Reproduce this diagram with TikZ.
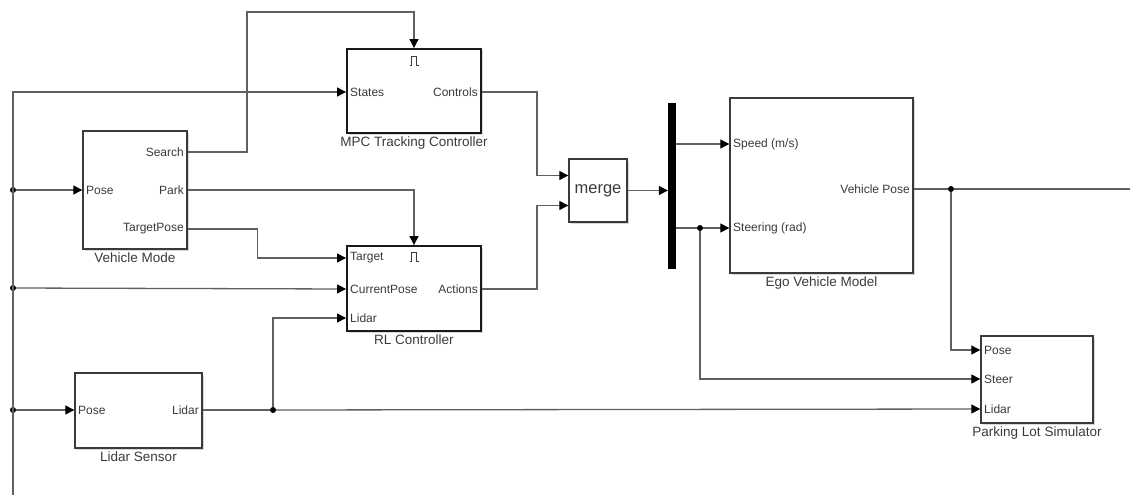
\documentclass[tikz,border=0pt]{standalone}
\usepackage{fontspec}
\setmainfont{Liberation Sans}
\usepackage{tikz}
\usetikzlibrary{arrows.meta, positioning, shadows}
\definecolor{wire}{HTML}{606060}
\definecolor{labelgray}{HTML}{3a3a3a}
\definecolor{frame}{HTML}{3a3a3a}

\begin{document}
\begin{tikzpicture}[
  x=1pt, y=-1pt,
  block/.style={rectangle, draw=frame, line width=1.4pt, fill=white, inner sep=0pt,
    drop shadow={shadow xshift=1.5pt, shadow yshift=-1.5pt, fill=black!30}},
  ctrlblock/.style={block, draw=black!90, line width=1.9pt},
  inport/.style={anchor=west, inner sep=1pt, text=labelgray, font=\fontsize{12}{14}\selectfont},
  outport/.style={inport, anchor=east},
  caption/.style={inner sep=1pt, text=labelgray, font=\fontsize{13.5}{15}\selectfont},
  sig/.style={draw=wire, line width=1.3pt},
  arrow/.style={sig, -{Triangle[length=9pt, width=9pt, color=black]}},
  junc/.style={circle, fill=black, inner sep=0pt, minimum size=6pt},
  trigger/.pic={\draw[labelgray, line width=0.9pt] (-4.5,4) -- (-2.5,4) -- (-2.5,-4.5) -- (2.5,-4.5) -- (2.5,4) -- (4.5,4);}
]
  \useasboundingbox (0,0) rectangle (1130,495);

  % blocks
  \node[ctrlblock, minimum width=134pt, minimum height=84pt] (mpc) at (414,91) {};
  \node[block, minimum width=104pt, minimum height=118pt] (vm) at (135,190) {};
  \node[ctrlblock, minimum width=134pt, minimum height=85pt] (rl) at (414,288.5) {};
  \node[block, minimum width=127pt, minimum height=75pt] (ls) at (138.5,410.5) {};
  \node[block, minimum width=58pt, minimum height=63pt, font=\fontsize{16.5}{18}\selectfont, text=labelgray] (merge) at (598,190.5) {merge};
  \node[rectangle, fill=black, minimum width=8pt, minimum height=166pt, inner sep=0pt] (bar) at (672,186) {};
  \node[block, minimum width=183pt, minimum height=175pt] (ego) at (821.5,185.5) {};
  \node[block, minimum width=112pt, minimum height=87pt] (pls) at (1037,379.5) {};

  \node[caption, below=2pt of mpc] (mpc-cap) {MPC Tracking Controller};
  \node[caption, below=2pt of vm] (vm-cap) {Vehicle Mode};
  \node[caption, below=2pt of rl] (rl-cap) {RL Controller};
  \node[caption, below=2pt of ls] (ls-cap) {Lidar Sensor};
  \node[caption, below=2pt of ego] (ego-cap) {Ego Vehicle Model};
  \node[caption, below=2pt of pls] (pls-cap) {Parking Lot Simulator};

  % ports
  \node[inport] (mpc-states) at (349,92) {States};
  \node[outport] (mpc-ctrl) at (479,92) {Controls};
  \pic at ([yshift=-13pt]mpc.north) {trigger};
  \node[inport] (vm-pose) at (85,190) {Pose};
  \node[outport] (vm-search) at (185,152) {Search};
  \node[outport] (vm-park) at (185,190) {Park};
  \node[outport] (vm-target) at (185,229) {TargetPose};
  \node[inport] (rl-target) at (349,258) {Target};
  \node[inport] (rl-cur) at (349,289) {CurrentPose};
  \node[inport] (rl-lidar) at (349,318) {Lidar};
  \node[outport] (rl-act) at (479,289) {Actions};
  \pic at ([yshift=-12pt]rl.north) {trigger};
  \node[inport] (ls-pose) at (77,410) {Pose};
  \node[outport] (ls-lidar) at (200,410) {Lidar};
  \node[inport] (ego-speed) at (732,144) {Speed (m/s)};
  \node[inport] (ego-steer) at (732,228) {Steering (rad)};
  \node[outport] (ego-pose) at (911,189) {Vehicle Pose};
  \node[inport] (pls-pose) at (983,350) {Pose};
  \node[inport] (pls-steer) at (983,379) {Steer};
  \node[inport] (pls-lidar) at (983,409) {Lidar};

  % junctions
  \node[junc] (j-vm) at (13,190) {};
  \node[junc] (j-rl) at (13,288) {};
  \node[junc] (j-ls) at (13,410) {};
  \node[junc] (j-lidar) at (273,410) {};
  \node[junc] (j-steer) at (700,228) {};
  \node[junc] (j-pose) at (951,189) {};
  \coordinate (busend) at (13,495);
  \coordinate (srch) at (247,12);
  \coordinate (poseout) at (1130,189);

  % signals
  \draw[arrow] (busend) |- (mpc.west |- mpc-states);
  \draw[arrow] (j-vm) -- (vm.west |- vm-pose);
  \draw[arrow] (j-rl) -- (rl.west |- rl-cur);
  \draw[arrow] (j-ls) -- (ls.west |- ls-pose);
  \draw[arrow] (vm.east |- vm-search) -| (srch) -| (mpc.north);
  \draw[arrow] (vm.east |- vm-park) -| (rl.north);
  \draw[arrow] (vm.east |- vm-target) -- ++(70,0) |- (rl.west |- rl-target);
  \draw[sig] (ls.east |- ls-lidar) -- (j-lidar);
  \draw[arrow] (j-lidar) |- (rl.west |- rl-lidar);
  \draw[arrow] (j-lidar) -- (pls.west |- pls-lidar);
  \draw[arrow] (mpc.east |- mpc-ctrl) -- ++(55,0) |- ([yshift=15pt]merge.west);
  \draw[arrow] (rl.east |- rl-act) -- ++(55,0) |- ([yshift=-15pt]merge.west);
  \draw[arrow] (merge.east) -- (merge.east -| bar.west);
  \draw[arrow] (bar.east |- ego-speed) -- (ego.west |- ego-speed);
  \draw[sig] (bar.east |- ego-steer) -- (j-steer);
  \draw[arrow] (j-steer) -- (ego.west |- ego-steer);
  \draw[arrow] (j-steer) |- (pls.west |- pls-steer);
  \draw[sig] (ego.east |- ego-pose) -- (j-pose) -- (poseout);
  \draw[arrow] (j-pose) |- (pls.west |- pls-pose);
\end{tikzpicture}
\end{document}
